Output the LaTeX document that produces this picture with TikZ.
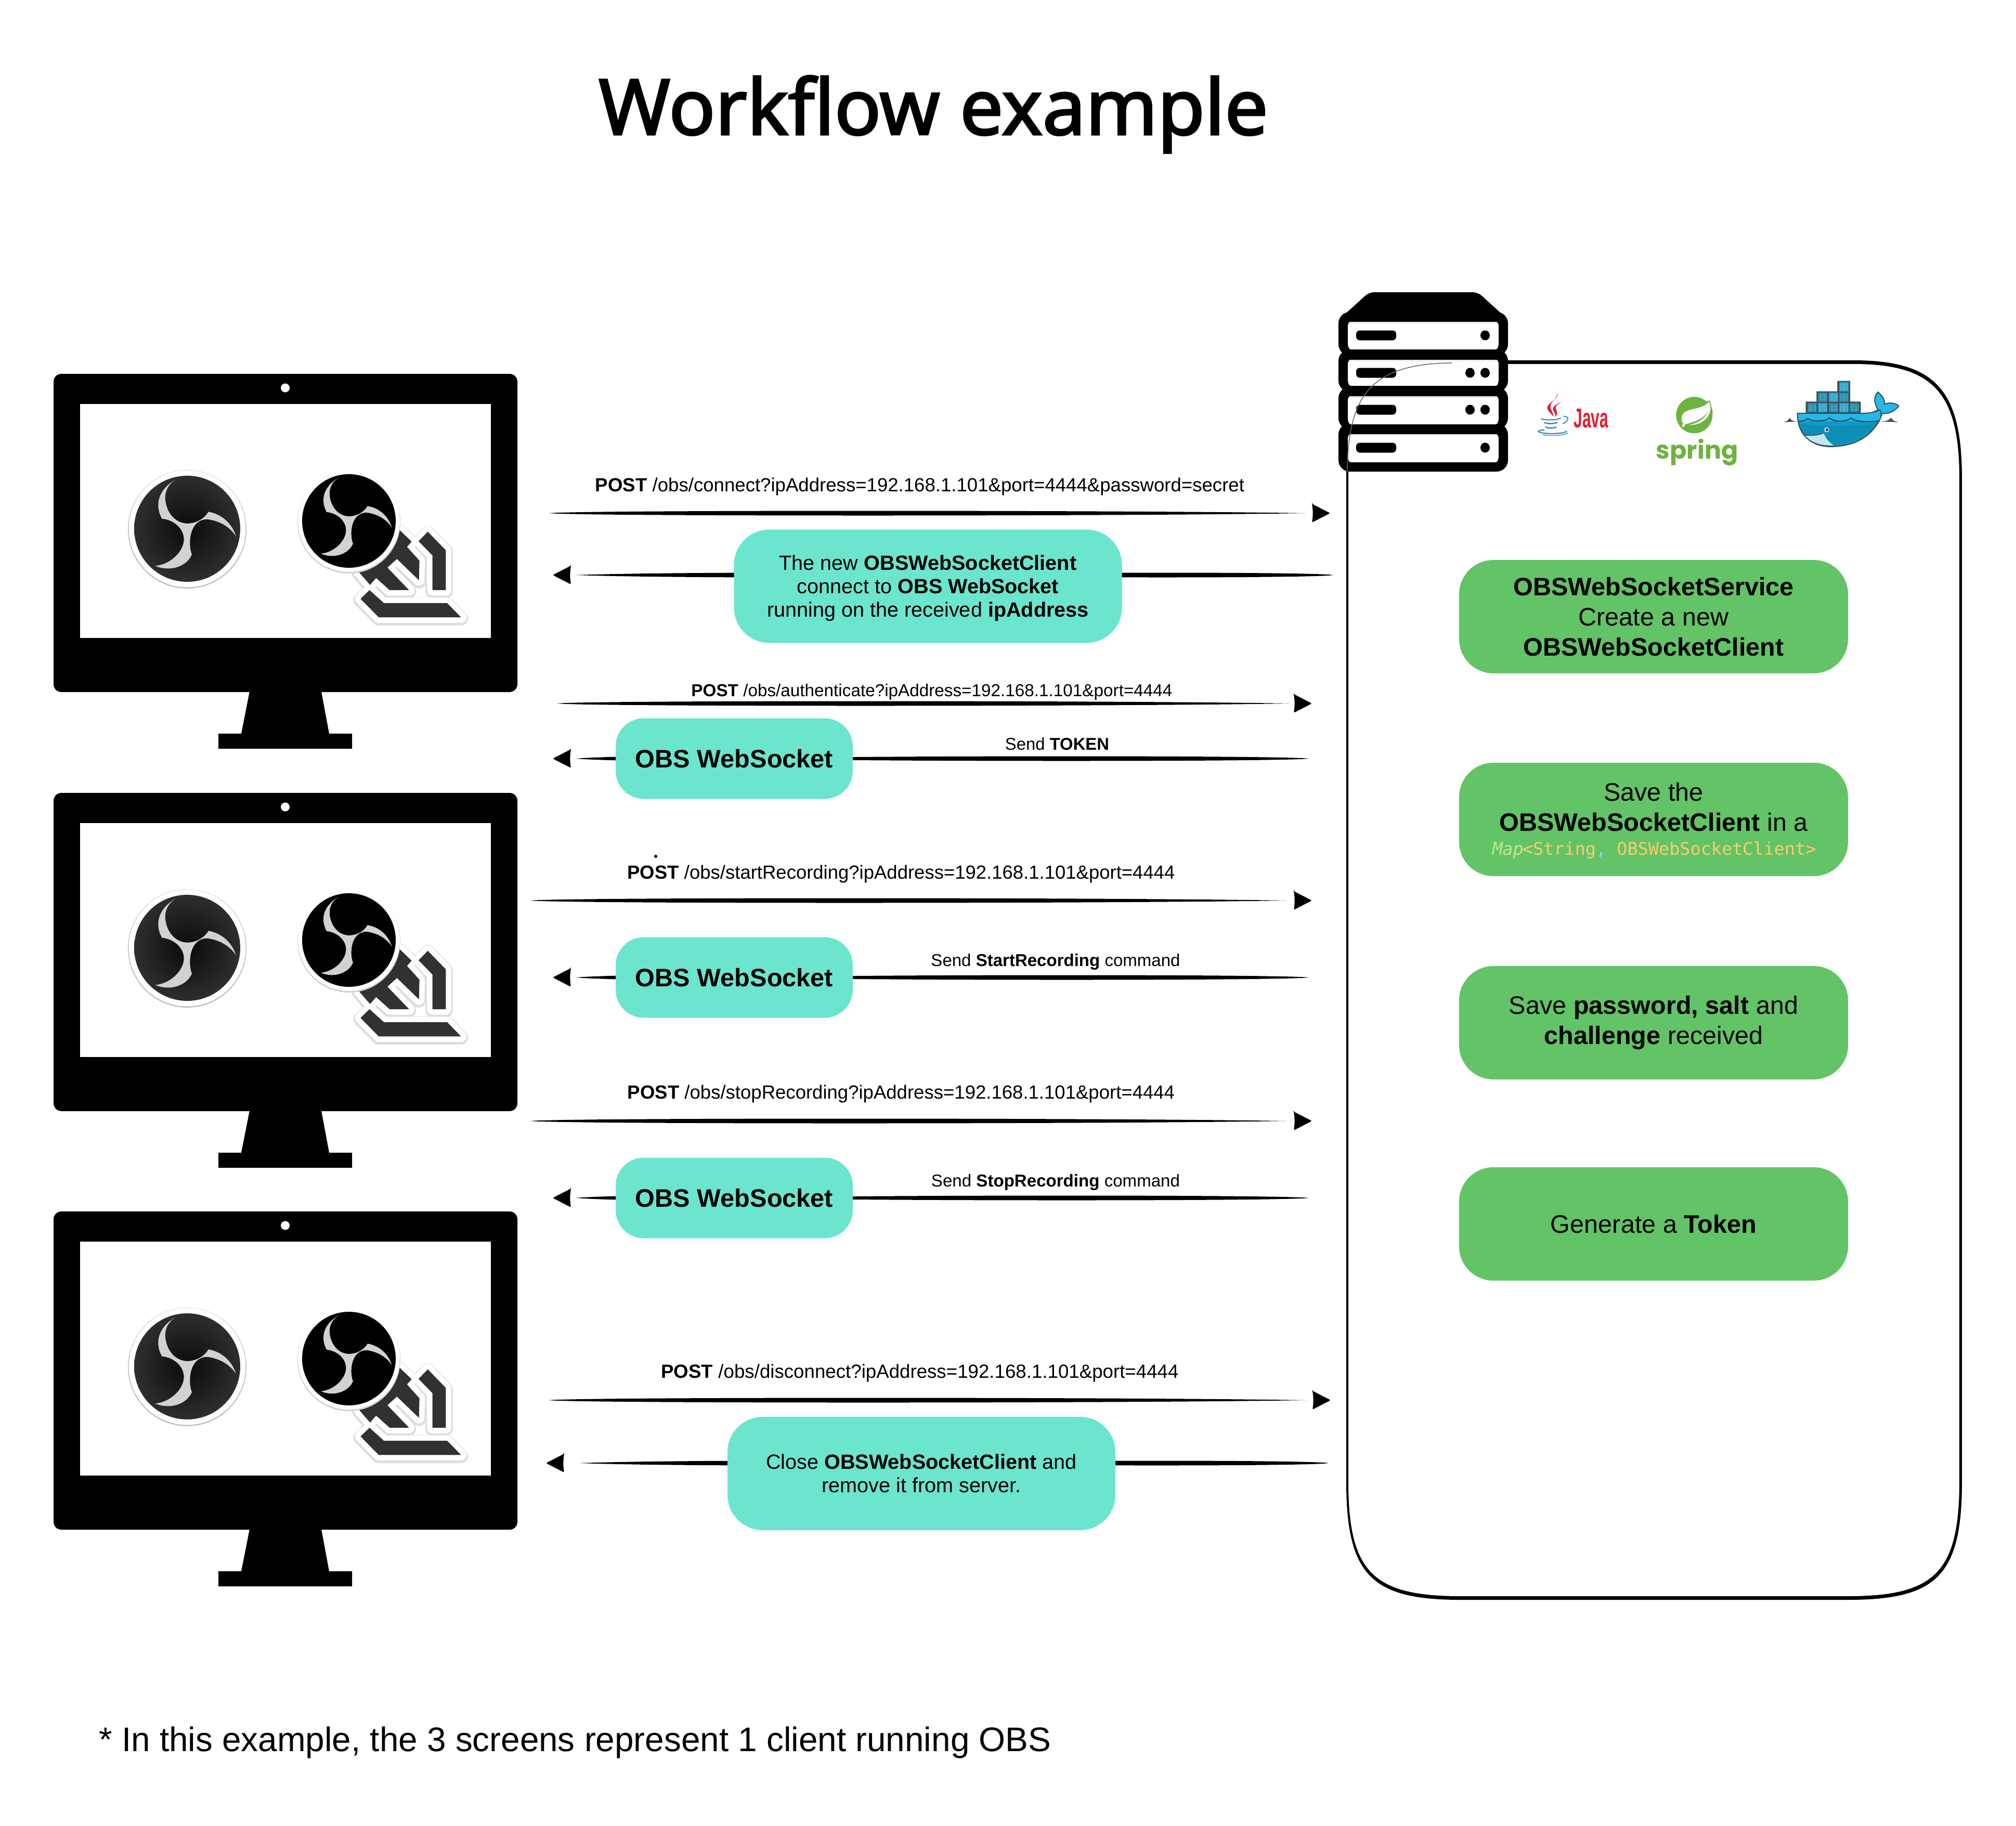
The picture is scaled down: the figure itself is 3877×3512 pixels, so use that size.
\documentclass[tikz,border=0pt]{standalone}
\usepackage{fontspec}
\setmainfont{Liberation Sans}
\newfontfamily\titlefont[FakeBold=2.4]{Noto Sans}
\newfontfamily\monofont{DejaVu Sans Mono}
\newfontfamily\springfont{Poppins}
\usetikzlibrary{calc,backgrounds}
\definecolor{tealbox}{HTML}{6CE5CE}
\definecolor{greenbox}{HTML}{62C466}
\definecolor{obslight}{HTML}{D2D2D2}
\definecolor{wsdark}{HTML}{323033}
\definecolor{dkline}{HTML}{384D54}
\definecolor{dkmid}{HTML}{0E9BC9}
\definecolor{dkband}{HTML}{24B8EB}
\definecolor{dkcont}{HTML}{1B87A8}
\definecolor{dkcontb}{HTML}{22A0C8}
\definecolor{javared}{HTML}{E11E2F}
\definecolor{javablue}{HTML}{3A8FB7}
\definecolor{springg}{HTML}{6DB33F}
\definecolor{mapa}{HTML}{C3E88D}
\definecolor{mapb}{HTML}{FFCB6B}
\definecolor{mapc}{HTML}{89DDFF}
\tikzset{
  x=1pt,y=-1pt,
  tealstyle/.style={fill=tealbox,text=black,align=center,inner sep=0pt},
  greenstyle/.style={fill=greenbox,text=black,align=center,inner sep=0pt,rounded corners=66pt,minimum width=748pt,minimum height=218pt,font=\fontsize{48.6}{58}\selectfont},
  bigteal/.style={tealstyle,rounded corners=68pt,minimum width=746pt,minimum height=218pt,font=\fontsize{39.6}{45}\selectfont},
  smallteal/.style={tealstyle,rounded corners=54pt,minimum width=456pt,minimum height=155pt},
  lbl/.style={inner sep=0pt,text=black},
}
\newcommand{\fitw}[2]{\resizebox{#1pt}{!}{#2}}
% tapered brush line
\newcommand{\brush}[3][6]{\fill ($(#2)$) .. controls ($(#2)!.04!(#3)+(0,-#1)$) and ($(#2)!.75!(#3)+(0,-#1)$) .. ($(#3)$) .. controls ($(#2)!.75!(#3)+(0,#1)$) and ($(#2)!.04!(#3)+(0,#1)$) .. ($(#2)$) -- cycle;}
\newcommand{\headR}[1]{\fill[rounded corners=2.5pt] ($(#1)+(-35,-18)$) -- ($(#1)$) -- ($(#1)+(-35,18)$) .. controls ($(#1)+(-33,6)$) and ($(#1)+(-33,-6)$) .. cycle;}
\newcommand{\headL}[1]{\fill[rounded corners=2.5pt] ($(#1)+(35,-18)$) -- ($(#1)$) -- ($(#1)+(35,18)$) .. controls ($(#1)+(33,6)$) and ($(#1)+(33,-6)$) .. cycle;}
% OBS swirl: #1 cx, #2 cy, #3 scale, #4 colour
\newcommand{\obsswirl}[4]{%
\begin{scope}[shift={(#1,#2)},x=#3*0.638pt,y=-#3*0.51pt]
\fill[#4] (-36,-185) .. controls (-95,-140) and (-95,-80) .. (-76,-38)
 .. controls (-45,-35) and (-10,-5) .. (-10,40)
 .. controls (-10,85) and (-50,135) .. (-96,140)
 .. controls (-50,165) and (0,140) .. (14,97)
 .. controls (2,60) and (5,-35) .. (60,-36)
 .. controls (100,-30) and (130,-5) .. (147,28)
 .. controls (135,-20) and (105,-55) .. (64,-64)
 .. controls (50,-35) and (25,-20) .. (-1,-20)
 .. controls (-35,-22) and (-55,-55) .. (-62,-85)
 .. controls (-72,-125) and (-65,-160) .. (-36,-185) -- cycle;
\end{scope}}
\begin{document}
\begin{tikzpicture}
\useasboundingbox (0,0) rectangle (3877,3512);
% title and note
\node[lbl] (title) at (1795,220) {\fitw{1287}{\titlefont Workflow example}};
\node[lbl] (note) at (1106,3351) {\fitw{1831}{* In this example, the 3 screens represent 1 client running OBS}};
% container
\fill[even odd rule]
 (2589,920) .. controls (2589,750) and (2639,693) .. (2799,693) -- (3564,693)
 .. controls (3722,693) and (3773,750) .. (3773,920) -- (3773,2850)
 .. controls (3773,3032) and (3723,3077) .. (3553,3077) -- (2810,3077)
 .. controls (2640,3077) and (2589,3032) .. (2589,2850) -- cycle
 (2593,920) .. controls (2593,755) and (2643,700) .. (2799,700) -- (3564,700)
 .. controls (3718,700) and (3768,755) .. (3768,920) -- (3768,2850)
 .. controls (3768,3026) and (3719,3070) .. (3553,3070) -- (2810,3070)
 .. controls (2642,3070) and (2593,3026) .. (2593,2850) -- cycle;
% monitors
\foreach \dy in {0,806,1611}{
\begin{scope}[shift={(0,\dy)}]
 \fill[rounded corners=15pt] (103,719) rectangle (995,1331);
 \fill (481,1325) -- (617,1325) -- (633,1411) -- (677,1411) -- (677,1440) -- (420,1440) -- (420,1411) -- (464,1411) -- cycle;
 \fill[white] (154,777) rectangle (944,1227);
 \fill[white] (548.5,746) circle[radius=8.5];
 % first OBS icon
 \fill[black!25] (360,1018) circle[radius=114];
 \fill[white] (360,1017) circle[radius=112.5];
 \shade[inner color=black!96,outer color=black!82] (360,1017) circle[radius=102];
 \obsswirl{360}{1017}{1}{obslight}
 % WS mark
 \begin{scope}[shift={(660,980)},x=0.3333pt,y=-0.3333pt]
  \foreach \lw/\col/\oy in {27/black!13/7,21/white/0}{
  \begin{scope}[shift={(0,\oy)}]
  \draw[line width=\lw pt,\col,fill=\col,line join=round]
   (325,118) -- (395,185) -- (368,215) -- (440,295) -- (437,408) -- (310,285) -- (255,335) -- (380,465) -- (268,465) -- (190,395) -- (155,435) -- (90,360) -- cycle;
  \draw[line width=\lw pt,\col,fill=\col,line join=round]
   (488,128) -- (592,235) -- (592,465) -- (515,465) -- (515,265) -- (435,183) -- cycle;
  \draw[line width=\lw pt,\col,fill=\col,line join=round]
   (152,465) -- (235,540) -- (600,540) -- (680,622) -- (205,622) -- (100,515) -- cycle;
  \end{scope}}
  \fill[wsdark] (325,118) -- (395,185) -- (368,215) -- (440,295) -- (437,408) -- (310,285) -- (255,335) -- (380,465) -- (268,465) -- (190,395) -- (155,435) -- (90,360) -- cycle;
  \fill[wsdark] (488,128) -- (592,235) -- (592,465) -- (515,465) -- (515,265) -- (435,183) -- cycle;
  \fill[wsdark] (152,465) -- (235,540) -- (600,540) -- (680,622) -- (205,622) -- (100,515) -- cycle;
 \end{scope}
 % second OBS icon
 \fill[black!18] (671,1004) circle[radius=99];
 \fill[white] (671,1002) circle[radius=98];
 \fill[black] (671,1002) circle[radius=90];
 \obsswirl{671}{1002}{0.88}{obslight}
\end{scope}}
% server
\fill[rounded corners=10pt] (2574,650) -- (2578,612) -- (2633,562) -- (2842,562) -- (2897,612) -- (2900,650) -- cycle;
\fill[rounded corners=22pt] (2574,600) rectangle (2900,684);
\fill[rounded corners=22pt] (2574,672) rectangle (2900,754);
\fill[rounded corners=22pt] (2574,744) rectangle (2900,826);
\fill[rounded corners=22pt] (2574,814) rectangle (2900,907);
\foreach \ya/\yb/\pill in {619/672/645,692/742/717,762/816/788,835/889/861}{
 \fill[white,rounded corners=2pt] (2595,\ya) -- (2879,\ya) -- (2882,\ya+5) -- (2882,\yb-8) -- (2879,\yb) -- (2595,\yb) -- (2592,\yb-8) -- (2592,\ya+5) -- cycle;
 \fill[black!8] (2595,\ya) rectangle (2879,\ya+3);
 \fill[rounded corners=7pt] (2608,\pill-9.5) rectangle (2685,\pill+9.5);
 \fill (2856,\pill) ellipse[x radius=9,y radius=9.5];
}
\fill (2827,717) ellipse[x radius=9,y radius=9.5];
\fill (2827,788) ellipse[x radius=9,y radius=9.5];
\draw[black!60,line width=1.5pt] (2792,698) .. controls (2641,700) and (2592,755) .. (2591,907);
% java
\begin{scope}[shift={(2950,750)},x=0.3333pt,y=-0.3333pt]
 \fill[javared] (135,18) .. controls (145,60) and (60,75) .. (80,115) .. controls (88,130) and (105,140) .. (112,155) .. controls (115,130) and (90,115) .. (95,90) .. controls (100,65) and (130,55) .. (135,18) -- cycle;
 \fill[javared] (160,70) .. controls (120,85) and (100,100) .. (115,125) .. controls (125,140) and (125,150) .. (120,158) .. controls (145,135) and (125,115) .. (125,100) .. controls (125,90) and (145,78) .. (160,70) -- cycle;
 \draw[javablue,line width=2.2pt] (40,167) .. controls (70,176) and (130,175) .. (155,162);
 \draw[javablue,line width=2pt] (170,152) .. controls (205,150) and (205,180) .. (165,195);
 \draw[javablue,line width=2.6pt] (58,188) .. controls (80,196) and (115,196) .. (135,187);
 \draw[javablue,line width=2.6pt] (65,214) .. controls (85,222) and (110,222) .. (130,214);
 \draw[javablue,line width=2.2pt] (60,230) .. controls (0,235) and (20,250) .. (100,252) .. controls (150,252) and (190,245) .. (188,235);
 \draw[javablue,line width=1.4pt] (50,258) .. controls (100,268) and (170,262) .. (195,248);
 \node[lbl,text=javared] (javatext) at (330,165) {\resizebox{67pt}{36pt}{\textbf{Java}}};
 % spring
 \fill[springg] (925,145) circle[radius=105];
 \fill[springg] (1015,60) -- (1032,130) -- (960,80) -- cycle;
 \fill[white] (1010,68) .. controls (1030,110) and (1015,160) .. (960,190) .. controls (925,205) and (885,205) .. (868,205) .. controls (845,180) and (845,140) .. (875,125) .. controls (910,105) and (975,110) .. (1010,68) -- cycle;
 \fill[springg] (868,200) .. controls (920,185) and (980,170) .. (1005,122) .. controls (985,175) and (930,195) .. (878,208) -- cycle;
 \fill[white] (862,205) circle[radius=8];
 \node[lbl,text=springg] (springtext) at (942,361) {\fitw{158}{\springfont\bfseries spring}};
\end{scope}
% docker
\begin{scope}[shift={(3420,720)},x=0.3333pt,y=-0.3333pt]
 \fill[dkline] (28,276) .. controls (50,272) and (60,265) .. (65,250) .. controls (70,265) and (85,272) .. (110,272) -- cycle;
 \fill[dkline] (585,272) .. controls (620,272) and (640,265) .. (650,250) .. controls (655,265) and (670,272) .. (695,276) -- cycle;
 \fill[dkline] (340,38) rectangle (414,100) (220,98) rectangle (414,160) (158,157) rectangle (475,225);
 \foreach \cx/\cy/\cc in {351/45/dkcontb,229/105/dkcont,290/105/dkcontb,351/105/dkcont,167/165/dkcont,229/165/dkcontb,290/165/dkcont,351/165/dkcontb,412/165/dkcont}{
  \fill[\cc] (\cx,\cy) rectangle (\cx+54,\cy+54);
  \foreach \sx in {8,16,24,32,40,48}{\draw[white,opacity=.35,line width=.7pt] (\cx+\sx,\cy+6) -- (\cx+\sx,\cy+48);}
 }
 % tail and body
 \fill[dkband,draw=dkline,line width=2pt,line join=round] (575,205) .. controls (555,170) and (545,130) .. (575,102) .. controls (600,125) and (615,145) .. (612,172) .. controls (640,160) and (675,165) .. (695,182) .. controls (670,215) and (630,230) .. (600,225) .. controls (590,245) and (585,255) .. (578,270) -- (500,240) -- cycle;
 \fill[dkmid,draw=dkline,line width=2.2pt,line join=round] (110,225) -- (470,225) .. controls (520,225) and (560,220) .. (585,205) .. controls (600,230) and (590,255) .. (578,275) .. controls (520,370) and (430,415) .. (300,417) .. controls (180,415) and (110,340) .. (110,225) -- cycle;
 \fill[dkband] (113,228) -- (470,228) .. controls (520,228) and (560,223) .. (583,208) .. controls (595,230) and (590,250) .. (578,270) -- (115,270) -- cycle;
 \draw[dkline,line width=2.4pt] (112,270) .. controls (135,272) and (160,265) .. (170,256) .. controls (190,272) and (270,275) .. (295,252) .. controls (325,278) and (395,275) .. (420,252) .. controls (445,278) and (540,275) .. (578,268);
 \fill[black,opacity=.08] (115,285) .. controls (250,300) and (450,300) .. (570,280) .. controls (480,390) and (380,400) .. (300,415) .. controls (180,415) and (120,350) .. (115,285) -- cycle;
 \fill[white!75!dkmid] (152,350) .. controls (190,355) and (230,352) .. (262,338) .. controls (270,370) and (295,395) .. (320,410) .. controls (260,412) and (190,400) .. (152,350) -- cycle;
 \draw[dkline,line width=1.6pt] (150,350) .. controls (190,355) and (230,352) .. (262,338);
 \fill[white] (279,320) circle[radius=14];
 \fill[dkline] (280,320) circle[radius=9];
\end{scope}
% connector end coordinates
\coordinate (a1s) at (1056,987); \coordinate (a1e) at (2510,987); \coordinate (a1t) at (2558,987);
\coordinate (l2t) at (1063,1106); \coordinate (l2e) at (1107,1106); \coordinate (r2e) at (2564,1106);
\coordinate (a3s) at (1071,1353); \coordinate (a3e) at (2480,1353); \coordinate (a3t) at (2523,1353);
\coordinate (l4t) at (1063,1459); \coordinate (l4e) at (1107,1459); \coordinate (r4e) at (2517,1459);
\coordinate (a5s) at (1020,1732); \coordinate (a5e) at (2474,1732); \coordinate (a5t) at (2523,1732);
\coordinate (l6t) at (1063,1880); \coordinate (l6e) at (1107,1880); \coordinate (r6e) at (2517,1880);
\coordinate (a7s) at (1020,2156); \coordinate (a7e) at (2474,2156); \coordinate (a7t) at (2523,2156);
\coordinate (l8t) at (1063,2304); \coordinate (l8e) at (1107,2304); \coordinate (r8e) at (2517,2304);
\coordinate (a9s) at (1055,2693); \coordinate (a9e) at (2512,2693); \coordinate (a9t) at (2559,2693);
\coordinate (l10t) at (1050,2814); \coordinate (l10e) at (1114,2814); \coordinate (r10e) at (2555,2814);
% labels
\node[lbl] (t1) at (1769,936) {\fitw{1248}{\textbf{POST} /obs/connect?ipAddress=192.168.1.101\&port=4444\&password=secret}};
\node[lbl] (t3) at (1792,1331) {\fitw{925}{\textbf{POST} /obs/authenticate?ipAddress=192.168.1.101\&port=4444}};
\node[lbl] (t4) at (2033,1431) {\fitw{200}{Send \textbf{TOKEN}}};
\node[lbl] (dot) at (1261,1647) {};
\fill (dot) circle[radius=3];
\node[lbl] (t5) at (1733,1681) {\fitw{1053}{\textbf{POST} /obs/startRecording?ipAddress=192.168.1.101\&port=4444}};
\node[lbl] (t6) at (2030,1850) {\fitw{479}{Send \textbf{StartRecording} command}};
\node[lbl] (t7) at (1733,2104) {\fitw{1052}{\textbf{POST} /obs/stopRecording?ipAddress=192.168.1.101\&port=4444}};
\node[lbl] (t8) at (2030,2274) {\fitw{478}{Send \textbf{StopRecording} command}};
\node[lbl] (t9) at (1769,2641) {\fitw{995}{\textbf{POST} /obs/disconnect?ipAddress=192.168.1.101\&port=4444}};
% teal boxes
\node[bigteal] (b2) at (1784.5,1127.5) {\raisebox{-5pt}[\height][\depth]{\begin{tabular}{@{}c@{}}The new \textbf{OBSWebSocketClient}\\connect to \textbf{OBS WebSocket}\\running on the received \textbf{ipAddress}\end{tabular}}};
\node[smallteal] (b4) at (1412,1459) {\fitw{380}{\textbf{OBS WebSocket}}};
\node[smallteal] (b6) at (1412,1880) {\fitw{380}{\textbf{OBS WebSocket}}};
\node[smallteal] (b8) at (1412,2304) {\fitw{380}{\textbf{OBS WebSocket}}};
\node[bigteal] (b10) at (1772,2834) {Close \textbf{OBSWebSocketClient} and\\remove it from server.};
% green boxes
\node[greenstyle] (g1) at (3180,1186) {\textbf{OBSWebSocketService}\\Create a new\\\textbf{OBSWebSocketClient}};
\node[greenstyle] (g2) at (3180,1576) {\raisebox{-5pt}[\height][\depth]{\begin{tabular}{@{}c@{}}Save the\\\textbf{OBSWebSocketClient} in a\\[-12pt]{\fontsize{33.5}{40}\selectfont\monofont\textcolor{mapa}{\addfontfeature{FakeSlant=0.2}Map}\textcolor{mapb}{<String}\textcolor{mapc}{,} \textcolor{mapb}{OBSWebSocketClient>}}\end{tabular}}};
\node[greenstyle] (g3) at (3180,1967) {Save \textbf{password, salt} and\\\textbf{challenge} received};
\node[greenstyle] (g4) at (3180,2354) {Generate a \textbf{Token}};
% connectors
\coordinate (b2m) at (b2.center|-l2e);
\coordinate (b10m) at (b10.center|-l10e);
\begin{pgfonlayer}{background}
\brush{a1s}{a1e}
\brush{b2m}{l2e} \brush{r2e}{b2m}
\brush{a3s}{a3e}
\brush{b4.center}{l4e} \brush{r4e}{b4.center}
\brush{a5s}{a5e}
\brush{b6.center}{l6e} \brush{r6e}{b6.center}
\brush{a7s}{a7e}
\brush{b8.center}{l8e} \brush{r8e}{b8.center}
\brush{a9s}{a9e}
\brush{b10m}{l10e} \brush{r10e}{b10m}
\end{pgfonlayer}
\headR{a1t} \headL{l2t} \headR{a3t} \headL{l4t} \headR{a5t} \headL{l6t} \headR{a7t} \headL{l8t} \headR{a9t} \headL{l10t}
\end{tikzpicture}
\end{document}
